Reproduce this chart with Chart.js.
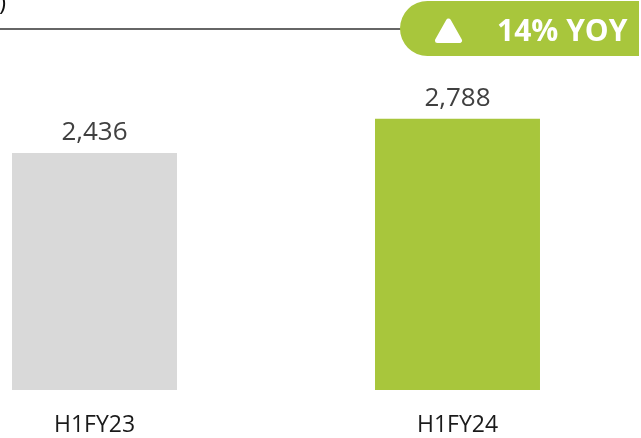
<!DOCTYPE html>
<html>
<head>
<meta charset="utf-8">
<script src="https://cdn.jsdelivr.net/npm/chart.js@4"></script>
<style>
  html, body { margin: 0; padding: 0; background: #fff; overflow: hidden; }
  #wrap { position: absolute; left: -87px; top: 0; width: 726px; height: 438px; }
</style>
</head>
<body>
<div id="wrap"><canvas id="chart"></canvas></div>
<script>
// Chart data
const periods = ["H1FY23", "H1FY24"];
const revenue = [2436, 2788];
const barColors = ["#d9d9d9", "#a8c63c"];
const growthLabel = "14% YOY";

const shiftX = 87; // canvas starts left of the window

// Draws value labels, the header rule and the YOY badge
const decorPlugin = {
    id: "decor",
    afterDatasetsDraw(chart) {
        const ctx = chart.ctx;
        const meta = chart.getDatasetMeta(0);

        ctx.save();
        ctx.font = "26px 'Open Sans'";
        ctx.fillStyle = "#404040";
        ctx.textAlign = "center";
        ctx.textBaseline = "alphabetic";
        meta.data.forEach((bar, i) => {
            ctx.fillText(revenue[i].toLocaleString("en-US"), bar.x, bar.y - 13);
        });

        // leftover bracket of the cut-off title
        ctx.font = "24px 'Open Sans'";
        ctx.fillStyle = "#111";
        ctx.textAlign = "right";
        ctx.fillText(")", shiftX + 6, 10);

        // header rule
        ctx.strokeStyle = "#333";
        ctx.lineWidth = 1.5;
        ctx.beginPath();
        ctx.moveTo(shiftX, 29);
        ctx.lineTo(shiftX + 402, 29);
        ctx.stroke();

        // badge
        const bx = shiftX + 400, by = 1, bw = 280, bh = 55, r = 27.5;
        ctx.fillStyle = "#a8c63c";
        ctx.beginPath();
        ctx.roundRect(bx, by, bw, bh, r);
        ctx.fill();

        // rounded up-triangle
        ctx.fillStyle = "#fff";
        ctx.strokeStyle = "#fff";
        ctx.lineWidth = 5;
        ctx.lineJoin = "round";
        ctx.beginPath();
        ctx.moveTo(shiftX + 448.5, 21);
        ctx.lineTo(shiftX + 459.5, 40.5);
        ctx.lineTo(shiftX + 437.5, 40.5);
        ctx.closePath();
        ctx.fill();
        ctx.stroke();

        ctx.font = "bold 30px 'Open Sans'";
        ctx.textAlign = "left";
        ctx.fillText(growthLabel, shiftX + 497, 41);
        ctx.restore();
    }
};

new Chart(document.getElementById("chart"), {
    type: "bar",
    data: {
        labels: periods,
        datasets: [{
            data: revenue,
            backgroundColor: barColors,
            categoryPercentage: 1,
            barPercentage: 0.4545
        }]
    },
    options: {
        responsive: true,
        maintainAspectRatio: false,
        animation: false,
        layout: { padding: 0 },
        plugins: {
            legend: { display: false },
            tooltip: { enabled: false }
        },
        scales: {
            x: {
                grid: { display: false, drawTicks: false },
                border: { display: false },
                afterFit(scale) {
                    scale.height = 48;
                },
                ticks: {
                    padding: 22,
                    color: "#1a1a1a",
                    font: { family: "'Open Sans'", size: 23 }
                }
            },
            y: {
                display: false,
                min: 0,
                max: 4010
            }
        }
    },
    plugins: [decorPlugin]
});
</script>
</body>
</html>
